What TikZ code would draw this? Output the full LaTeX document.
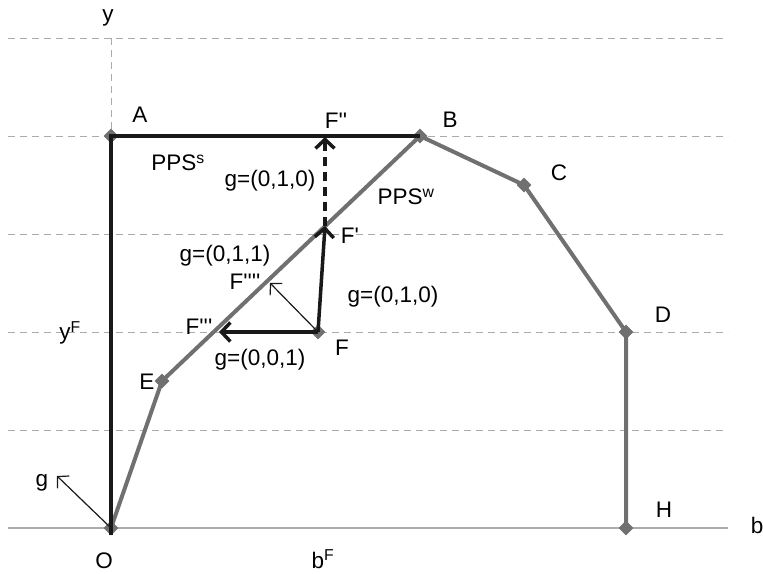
\documentclass[tikz,border=0pt]{standalone}
\usepackage{fontspec}
\setmainfont{Liberation Sans}
\usetikzlibrary{arrows.meta,shapes.geometric}
\definecolor{pps}{HTML}{707070}
\definecolor{gridgray}{HTML}{ABABAB}
\newcommand{\pr}{\textquotesingle}
\begin{document}
\begin{tikzpicture}[x=1pt,y=-1pt,
    every node/.style={font=\fontsize{22.5}{26}\selectfont},
    gridline/.style={draw=gridgray, line width=0.8pt, dash pattern=on 7pt off 5pt},
    frontier/.style={draw=pps, line width=4pt, line join=miter},
    strong/.style={draw=black!90, line width=4pt},
    vtx/.style={diamond, fill=pps, inner sep=0pt, minimum size=15pt},
    mv/.style={draw=black!90, line width=3.5pt, -{Straight Barb[length=9pt,width=19pt]}},
    dir/.style={draw=black!90, line width=1.2pt, -{Straight Barb[length=8pt,width=17pt]}}]

    \useasboundingbox (0,0) rectangle (763,573);

    % Grid and axes
    \foreach \gy in {38,136,234,332,430}
        \draw[gridline] (8,\gy) -- (728,\gy);
    \draw[gridgray, line width=1.3pt] (8,528) -- (728,528);
    \draw[gridline] (111,38) -- (111,136);

    % Corner points
    \coordinate (O) at (111,528);
    \coordinate (Obot) at (111,535);
    \coordinate (A) at (111,136);
    \coordinate (B) at (420,136);
    \coordinate (C) at (524,185);
    \coordinate (D) at (626,332);
    \coordinate (H) at (626,528);
    \coordinate (E) at (162,381);
    \coordinate (F) at (318,332);
    \coordinate (F1) at (325,226);
    \coordinate (F2) at (325,137);
    \coordinate (F3) at (219,332);
    \coordinate (F4) at (270,283);
    \coordinate (G) at (57,476);

    % Weak PPS (grey)
    \draw[frontier] (O) -- (E) -- (B) -- (C) -- (D) -- (H);
    \foreach \p in {O,A,B,C,D,H,E,F}
        \node[vtx] at (\p) {};

    % Strong PPS (black)
    \draw[strong] (Obot) -- (A) -- (B);

    % Directions
    \draw[mv] (F) -- (F1);
    \draw[mv] (F) -- (F3);
    \draw[mv, dash pattern=on 9pt off 6pt] (F1) -- (F2);
    \draw[dir] (F) -- (F4);
    \draw[dir] (O) -- (G);

    % Labels
    \node (ly) at (108,18) {y};
    \node (lb) at (757,525) {b};
    \node[inner sep=1pt] (lO) at (104,561) {O};
    \node[inner sep=1pt] (lbF) at (323,559) {b\textsuperscript{F}};
    \node (lyF) at (70,333) {y\textsuperscript{F}};
    \node (lg) at (42,483) {g};
    \node (lA) at (140,115) {A};
    \node (lB) at (450,120) {B};
    \node (lC) at (559,173) {C};
    \node (lD) at (663,315) {D};
    \node (lH) at (664,510) {H};
    \node (lE) at (147,382) {E};
    \node (lF) at (342,348) {F};
    \node (lF1) at (350,236) {F\pr};
    \node (lF2) at (336,121) {F\pr\pr};
    \node (lF3) at (199,327) {F\pr\pr\pr};
    \node (lF4) at (245,282) {F\pr\pr\pr\pr};
    \node (lPs) at (178,163) {PPS\textsuperscript{s}};
    \node (lPw) at (406,197) {PPS\textsuperscript{w}};
    \node (lg1) at (270,181) {g=(0,1,0)};
    \node (lg2) at (225,256) {g=(0,1,1)};
    \node (lg3) at (393,297) {g=(0,1,0)};
    \node (lg4) at (260,360) {g=(0,0,1)};

\end{tikzpicture}
\end{document}
